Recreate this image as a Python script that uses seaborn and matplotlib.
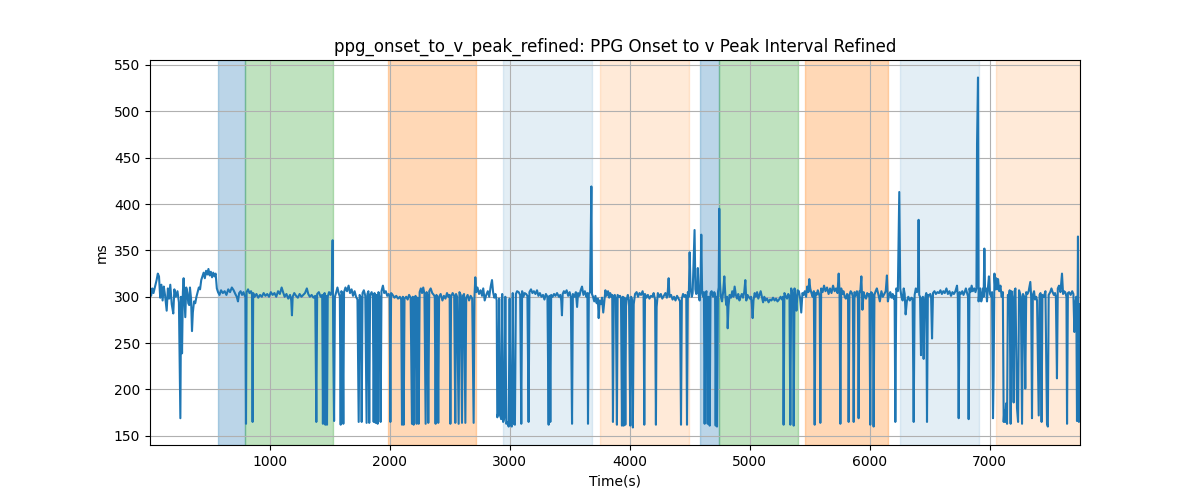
import matplotlib
matplotlib.use("Agg")
import matplotlib.pyplot as plt
import seaborn as sns
import pandas as pd

# ---- data: (time s, interval ms), per region ----
seg_a = [(3,306),(12,301),(22,309),(32,304),(45,311),(58,318),(68,325),(78,322),(88,299),(98,313),
         (108,296),(118,311),(128,302),(142,285),(152,309),(162,298),(172,313),(184,292),(197,282),(206,308),
         (218,300),(232,306),(244,294),(256,169),(262,300),(270,239),(277,305),(283,320),(290,300),(297,278),
         (305,310),(315,304),(322,293),(330,291),(336,310),(345,298),(353,263),(360,283),(370,295),(380,293),
         (390,300),(400,305),(410,310),(420,308),(430,318),(440,322),(450,326),(460,320),(470,328),(480,324),
         (490,330),(500,323),(510,327),(520,321),(530,326),(540,322),(550,325),(560,309),(570,305),(582,302),
         (595,307),(610,304),(625,306),(640,302),(655,308),(670,305),(685,310),(700,307),(714,303),(726,300),
         (736,295),(746,304),(758,306),(770,302),(782,305),(792,301)]

seg_b = [(798,300),(803,163),(808,305),(820,308),(832,304),(845,306),(853,302),(858,165),(863,304),(875,300),
         (890,303),(905,299),(920,302),(935,300),(950,304),(965,301),(980,303),(995,300),(1010,305),(1025,302),
         (1040,304),(1055,300),(1070,306),(1085,303),(1100,310),(1112,305),(1125,300),(1140,303),(1155,298),(1170,302),
         (1180,296),(1186,280),(1192,300),(1205,304),(1220,301),(1235,299),(1250,303),(1265,300),(1280,302),(1295,304),
         (1310,309),(1322,303),(1335,300),(1350,302),(1365,299),(1380,301),(1389,165),(1396,303),(1410,305),(1425,300),
         (1438,302),(1444,163),(1450,300),(1458,304),(1464,162),(1470,301),(1478,162),(1484,300),(1495,305),(1508,302),
         (1518,306),(1525,361)]

seg_c = [(1530,250),(1537,166),(1544,300),(1555,305),(1565,310),(1575,304),(1585,300),(1592,162),(1598,306),(1606,303),
         (1614,163),(1620,305),(1632,310),(1645,306),(1658,312),(1670,304),(1683,308),(1695,301),(1708,306),(1720,300),
         (1732,297),(1742,165),(1750,302),(1760,299),(1767,165),(1774,304),(1785,307),(1797,301),(1808,164),(1815,303),
         (1823,306),(1830,164),(1837,302),(1850,305),(1860,300),(1867,165),(1874,304),(1883,164),(1890,302),(1900,163),
         (1907,305),(1915,300),(1925,165),(1932,306),(1944,312),(1955,304),(1968,306),(1980,301)]

seg_d = [(1992,303),(2000,300),(2006,165),(2012,304),(2025,302),(2040,299),(2055,301),(2070,298),(2085,300),(2096,297),
         (2103,162),(2110,300),(2117,162),(2124,298),(2138,300),(2150,297),(2162,302),(2175,299),(2186,163),(2193,300),
         (2200,162),(2208,298),(2216,301),(2225,163),(2233,299),(2242,163),(2250,305),(2260,309),(2270,304),(2280,310),
         (2290,303),(2300,163),(2308,305),(2315,301),(2322,164),(2330,306),(2342,309),(2355,304),(2368,302),(2376,300),
         (2383,163),(2390,302),(2398,298),(2405,164),(2412,300),(2425,303),(2440,296),(2452,301),(2465,298),(2478,304),
         (2490,300),(2500,302),(2506,163),(2512,300),(2525,304),(2538,301),(2547,164),(2553,303),(2562,300),(2575,163),
         (2582,305),(2592,302),(2603,164),(2610,301),(2620,303),(2631,164),(2638,299),(2650,302),(2662,296),(2675,301),
         (2688,298),(2700,164),(2707,300),(2714,321)]

seg_e = [(2722,305),(2732,310),(2745,303),(2758,307),(2770,301),(2780,309),(2792,296),(2805,302),(2818,306),(2830,300),
         (2842,311),(2853,318),(2862,305),(2872,299),(2882,303),(2892,296),(2897,170),(2905,175),(2913,298),(2920,172),
         (2930,168)]

seg_f = [(2938,303),(2946,165),(2956,170),(2964,300),(2972,163),(2982,165),(2992,160),(3000,298),(3008,162),(3018,160),
         (3026,304),(3034,163),(3044,162),(3052,303),(3062,306),(3075,305),(3088,302),(3097,163),(3104,306),(3115,300),
         (3125,304),(3137,303),(3148,301),(3158,165),(3165,305),(3178,308),(3190,304),(3202,306),(3215,303),(3228,307),
         (3240,301),(3252,304),(3265,300),(3278,302),(3290,297),(3302,303),(3315,300),(3325,162),(3332,301),(3339,165),
         (3346,302),(3358,300),(3370,303),(3382,301),(3395,304),(3410,300),(3422,302),(3430,296),(3436,280),(3442,303),
         (3452,306),(3462,304),(3475,307),(3488,301),(3500,305),(3510,300),(3520,163),(3527,303),(3540,300),(3552,305),
         (3562,289),(3570,304),(3582,301),(3592,307),(3603,311),(3615,302),(3627,306),(3640,300),(3648,304),(3653,163),
         (3660,303),(3670,305),(3681,419)]

seg_g = [(3686,303),(3695,300),(3705,295),(3715,301),(3725,293),(3735,298),(3742,277),(3750,296),(3760,292),(3770,299),
         (3780,283),(3790,296),(3798,307),(3808,301),(3820,306),(3830,299),(3838,304),(3848,300),(3855,302),(3861,165),
         (3868,300),(3876,302),(3885,298),(3894,162),(3900,302),(3910,300),(3920,301),(3928,298),(3936,161),(3943,300),
         (3950,161),(3957,299),(3964,162),(3970,290),(3977,298),(3985,302),(3995,296),(4005,161),(4012,300),(4020,297),
         (4027,159),(4034,292),(4045,303),(4058,305),(4070,300),(4082,304),(4095,302),(4108,306),(4116,301),(4122,162),
         (4128,303),(4140,299),(4152,302),(4165,298),(4178,301),(4190,300),(4200,304),(4212,297),(4219,162),(4225,289),
         (4235,304),(4248,300),(4260,303),(4272,298),(4285,301),(4298,304),(4310,299),(4318,306),(4325,320),(4332,300),
         (4345,302),(4358,297),(4370,300),(4382,296),(4395,301),(4408,298),(4420,295),(4428,162),(4435,298),(4445,303),
         (4458,300),(4466,302),(4472,299),(4478,162),(4485,305),(4493,300),(4500,348),(4508,309),(4518,300),(4525,304),
         (4532,334),(4541,372),(4548,308),(4555,303),(4562,305),(4568,331),(4576,302),(4583,296)]

seg_h = [(4590,306),(4597,367),(4604,305),(4612,300),(4619,305),(4625,163),(4632,302),(4640,306),(4650,163),(4657,300),
         (4667,161),(4674,304),(4683,306),(4695,300),(4705,305),(4712,303),(4717,161),(4723,300),(4728,160),(4736,305),
         (4742,310),(4747,395),(4752,316),(4760,300),(4770,295),(4780,306),(4789,322),(4798,300),(4806,291),(4812,300),
         (4817,266),(4824,290),(4833,302),(4845,299),(4855,306),(4865,300),(4875,311),(4885,302),(4895,298),(4905,303),
         (4915,296),(4925,300),(4935,303),(4945,299),(4955,305),(4964,318),(4972,296),(4982,302),(4992,300),(5002,298),
         (5012,300),(5018,292),(5025,277),(5032,296),(5042,304),(5052,300),(5062,305),(5072,298),(5082,302),(5092,306),
         (5102,300),(5112,294),(5122,300),(5132,296),(5145,298),(5158,294),(5170,297),(5182,296),(5195,299),(5208,296),
         (5220,298),(5232,295),(5245,297),(5258,300),(5270,297),(5278,300),(5283,162),(5290,304),(5300,301),(5312,298),
         (5322,303),(5332,300),(5339,162),(5346,309),(5355,305),(5362,300),(5367,161),(5374,309),(5382,300),(5390,285),
         (5400,307)]

seg_i = [(5410,306),(5420,299),(5430,283),(5440,304),(5450,302),(5460,306),(5470,300),(5480,311),(5490,305),(5497,319),
         (5505,309),(5515,304),(5525,300),(5535,306),(5542,162),(5549,304),(5558,302),(5568,307),(5578,303),(5584,300),
         (5589,164),(5596,309),(5608,305),(5620,312),(5632,306),(5645,310),(5658,303),(5670,309),(5682,304),(5695,312),
         (5708,306),(5720,309),(5732,304),(5742,325),(5749,306),(5756,163),(5763,309),(5772,303),(5782,306),(5792,300),
         (5802,298),(5812,303),(5820,300),(5825,165),(5832,302),(5842,306),(5852,304),(5860,300),(5867,165),(5874,305),
         (5884,301),(5894,306),(5902,300),(5908,169),(5915,306),(5922,305),(5931,322),(5940,286),(5950,305),(5960,300),
         (5970,298),(5980,304),(5990,301),(5998,303),(6005,162),(6012,305),(6020,304),(6027,302),(6033,160),(6040,302),
         (6050,306),(6060,309),(6072,303),(6085,295),(6098,306),(6110,300),(6122,303),(6134,306),(6144,323),(6152,295),
         (6162,302),(6172,305),(6182,299),(6192,303),(6200,298),(6208,301),(6214,165),(6222,309),(6235,306),(6247,413)]

seg_j = [(6255,309),(6265,300),(6275,296),(6284,309),(6292,303),(6300,281),(6310,295),(6322,300),(6335,296),(6348,299),
         (6358,298),(6367,165),(6375,302),(6385,309),(6395,305),(6403,310),(6408,383),(6413,302),(6420,300),(6428,237),
         (6436,298),(6444,300),(6450,233),(6458,295),(6465,300),(6472,304),(6478,165),(6485,302),(6495,301),(6505,303),
         (6512,300),(6520,255),(6528,304),(6540,306),(6552,303),(6565,305),(6578,304),(6590,307),(6602,303),(6614,306),
         (6626,304),(6640,309),(6652,303),(6665,306),(6678,301),(6690,305),(6702,303),(6715,306),(6728,312),(6735,300),
         (6742,169),(6750,305),(6760,303),(6772,306),(6782,302),(6792,305),(6802,309),(6812,304),(6820,300),(6825,168),
         (6832,309),(6840,305),(6850,312),(6860,306),(6872,309),(6882,305),(6890,309),(6895,465),(6903,536.5),(6908,295)]

seg_k = [(6914,305),(6922,309),(6930,295),(6938,300),(6945,309),(6950,300),(6956,352),(6962,306),(6970,309),(6978,295),
         (6986,310),(6994,322),(7003,303),(7012,300),(7020,305),(7028,169),(7033,214),(7040,325),(7047,308),(7055,320),
         (7062,308),(7070,319),(7080,306),(7090,312),(7100,300),(7110,305),(7117,165),(7122,177),(7130,165),(7137,185),
         (7145,163),(7152,302),(7160,298),(7167,307),(7175,163),(7182,306),(7190,299),(7200,186),(7207,306),(7215,309),
         (7228,180),(7237,165),(7245,307),(7252,304),(7260,300),(7270,163),(7278,303),(7288,300),(7297,201),(7305,305),
         (7315,303),(7325,306),(7339,316),(7346,300),(7353,169),(7360,302),(7370,306),(7378,297),(7388,300),(7395,296),
         (7409,172),(7416,302),(7424,304),(7433,165),(7440,302),(7452,300),(7465,306),(7478,163),(7485,160),(7492,302),
         (7505,305),(7515,309),(7525,305),(7535,302),(7545,304),(7552,300),(7561,212),(7568,309),(7578,312),(7590,305),
         (7603,325),(7612,303),(7620,306),(7630,305),(7640,300),(7645,163),(7652,304),(7662,305),(7675,302),(7688,306),
         (7698,303),(7706,262),(7714,293),(7722,300),(7728,166),(7736,365),(7744,165),(7753,292)]

# shaded phases
span_start = [572, 792, 1983, 2942, 3756, 4589, 4742, 5464, 6256, 7053]
span_end   = [792, 1531, 2720, 3687, 4498, 4742, 5406, 6153, 6914, 7753]
span_color = ["tab:blue", "tab:green", "tab:orange", "tab:blue", "tab:orange",
              "tab:blue", "tab:green", "tab:orange", "tab:blue", "tab:orange"]
span_alpha = [0.3, 0.3, 0.3, 0.12, 0.16, 0.3, 0.3, 0.3, 0.12, 0.16]

title = "ppg_onset_to_v_peak_refined: PPG Onset to v Peak Interval Refined"

rows = seg_a + seg_b + seg_c + seg_d + seg_e + seg_f + seg_g + seg_h + seg_i + seg_j + seg_k
df = pd.DataFrame(rows, columns=["time", "value"])

fig, ax = plt.subplots(figsize=(12, 5), dpi=100)
for s, e, c, a in zip(span_start, span_end, span_color, span_alpha):
    ax.axvspan(s, e, color=c, alpha=a)

sns.lineplot(data=df, x="time", y="value", ax=ax, estimator=None, color="tab:blue", linewidth=1.5)
ax.set_xlim(df["time"].min(), df["time"].max())
ax.grid(True)
ax.set_title(title)
ax.set_xlabel("Time(s)")
ax.set_ylabel("ms")
fig.savefig("out.png", dpi=100)
